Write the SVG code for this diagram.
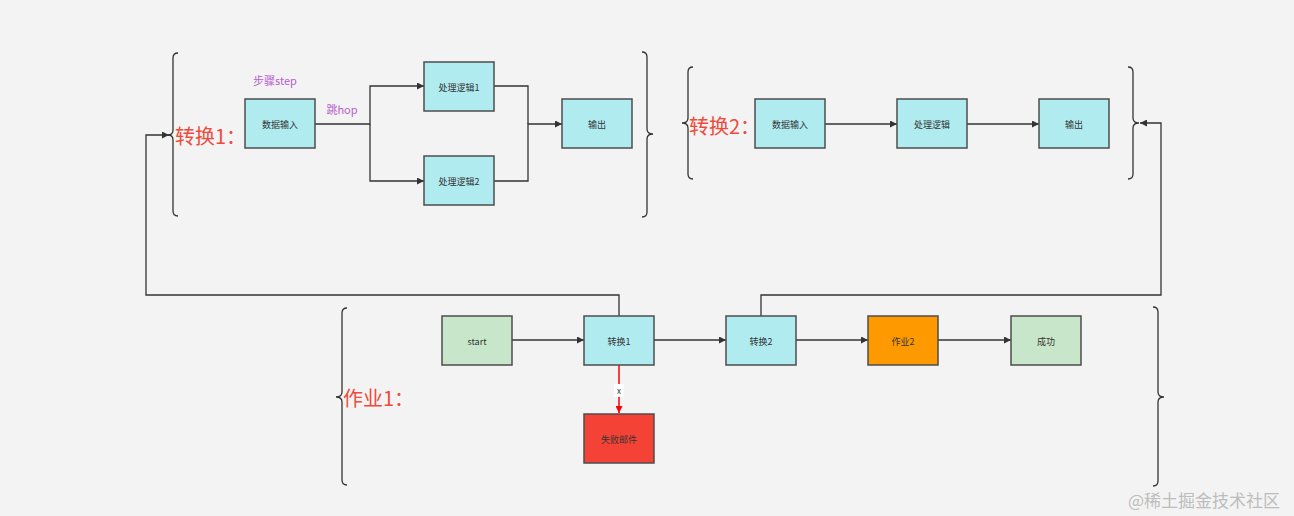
<svg xmlns="http://www.w3.org/2000/svg" width="1294" height="516" viewBox="0 0 1294 516">
<defs>
<marker id="arr" viewBox="0 0 10 10" refX="10" refY="5" markerWidth="7" markerHeight="7" markerUnits="userSpaceOnUse" orient="auto"><path d="M0,0 L10,5 L0,10 z" fill="#333"/></marker>
<marker id="arrR" viewBox="0 0 10 10" refX="10" refY="5" markerWidth="7" markerHeight="7" markerUnits="userSpaceOnUse" orient="auto"><path d="M0,0 L10,5 L0,10 z" fill="#f00"/></marker>
<style>
.box{stroke:#4d4d4d;stroke-width:1.5}
.cyan{fill:#b0ebf0}
.green{fill:#c8e6c9}
.orange{fill:#ff9900}
.red{fill:#f44336}
.t{font-family:"Noto Sans CJK SC","Liberation Sans",sans-serif;font-size:9px;fill:#333;text-anchor:middle;dominant-baseline:central}
.big{font-family:"Noto Sans CJK SC","Liberation Sans",sans-serif;font-size:20px;fill:#ee4b3c;dominant-baseline:central}
.lbl{font-family:"Noto Sans CJK SC","Liberation Sans",sans-serif;font-size:11px;fill:#b660cd;text-anchor:middle;dominant-baseline:central}
.brace{fill:none;stroke:#333;stroke-width:1.3}
.c{fill:none;stroke:#333;stroke-width:1.3}
</style>
</defs>
<rect width="1294" height="516" fill="#f3f3f3"/>

<g id="braces">
<path class="brace" d="M178,53 Q173,53 173,58 L173,130 Q173,135 168,135 Q173,135 173,140 L173,211 Q173,216 178,216"/>
<path class="brace" d="M642,52 Q647,52 647,57 L647,129 Q647,134 653,134 Q647,134 647,139 L647,212 Q647,217 642,217"/>
<path class="brace" d="M693,67 Q688,67 688,72 L688,118 Q688,123 682,123 Q688,123 688,128 L688,174 Q688,179 693,179"/>
<path class="brace" d="M1128,67 Q1133,67 1133,72 L1133,118 Q1133,123 1139,123 Q1133,123 1133,128 L1133,174 Q1133,179 1128,179"/>
<path class="brace" d="M347,308 Q342,308 342,313 L342,392 Q342,397 336,397 Q342,397 342,402 L342,480 Q342,485 347,485"/>
<path class="brace" d="M1153,307 Q1158,307 1158,312 L1158,392 Q1158,397 1164,397 Q1158,397 1158,402 L1158,481 Q1158,486 1153,486"/>
</g>

<g id="titles">
<text class="big" x="175" y="135">转换1：</text>
<text class="big" x="689" y="125">转换2：</text>
<text class="big" x="343" y="397">作业1：</text>
</g>

<g id="connectors">
<path class="c" d="M315,124 L370,124 L370,86 L424,86" marker-end="url(#arr)"/>
<path class="c" d="M370,124 L370,181 L424,181" marker-end="url(#arr)"/>
<path class="c" d="M494,86 L528,86 L528,124"/>
<path class="c" d="M494,181 L528,181 L528,124 L562,124" marker-end="url(#arr)"/>
<path class="c" d="M825,124 L897,124" marker-end="url(#arr)"/>
<path class="c" d="M967,124 L1039,124" marker-end="url(#arr)"/>
<path class="c" d="M512,340 L584,340" marker-end="url(#arr)"/>
<path class="c" d="M654,340 L726,340" marker-end="url(#arr)"/>
<path class="c" d="M796,340 L868,340" marker-end="url(#arr)"/>
<path class="c" d="M938,340 L1011,340" marker-end="url(#arr)"/>
<path class="c" d="M619,316 L619,295 L146,295 L146,135 L169,135" marker-end="url(#arr)"/>
<path class="c" d="M761,316 L761,295 L1161,295 L1161,123 L1140,123" marker-end="url(#arr)"/>
<path fill="none" stroke="#f00" stroke-width="1.5" d="M619,365 L619,413" marker-end="url(#arrR)"/>
<rect x="614" y="384" width="10" height="13" fill="#fff"/>
<text class="t" x="619" y="390.5" style="font-size:8px">x</text>
<text class="lbl" x="275" y="80">步骤step</text>
<text class="lbl" x="342" y="109">跳hop</text>
</g>

<g id="n-input1"><rect class="box cyan" x="245" y="99" width="70" height="49"/><text class="t" x="280" y="124">数据输入</text></g>
<g id="n-proc1"><rect class="box cyan" x="424" y="62" width="70" height="49"/><text class="t" x="459" y="87">处理逻辑1</text></g>
<g id="n-proc2"><rect class="box cyan" x="424" y="156" width="70" height="49"/><text class="t" x="459" y="181">处理逻辑2</text></g>
<g id="n-out1"><rect class="box cyan" x="562" y="99" width="70" height="49"/><text class="t" x="597" y="124">输出</text></g>

<g id="n-input2"><rect class="box cyan" x="755" y="99" width="70" height="49"/><text class="t" x="790" y="124">数据输入</text></g>
<g id="n-proc"><rect class="box cyan" x="897" y="99" width="70" height="49"/><text class="t" x="932" y="124">处理逻辑</text></g>
<g id="n-out2"><rect class="box cyan" x="1039" y="99" width="70" height="49"/><text class="t" x="1074" y="124">输出</text></g>

<g id="n-start"><rect class="box green" x="442" y="316" width="70" height="49"/><text class="t" x="477" y="341">start</text></g>
<g id="n-t1"><rect class="box cyan" x="584" y="316" width="70" height="49"/><text class="t" x="619" y="341">转换1</text></g>
<g id="n-t2"><rect class="box cyan" x="726" y="316" width="70" height="49"/><text class="t" x="761" y="341">转换2</text></g>
<g id="n-job2"><rect class="box orange" x="868" y="316" width="70" height="49"/><text class="t" x="903" y="341">作业2</text></g>
<g id="n-ok"><rect class="box green" x="1011" y="316" width="70" height="49"/><text class="t" x="1046" y="341">成功</text></g>
<g id="n-fail"><rect class="box red" x="584" y="414" width="70" height="49"/><text class="t" x="619" y="439">失败邮件</text></g>

<text x="1128" y="499" font-family="Noto Sans CJK SC, Liberation Sans, sans-serif" font-size="17" fill="#bdbdbd" dominant-baseline="central">@稀土掘金技术社区</text>
</svg>
